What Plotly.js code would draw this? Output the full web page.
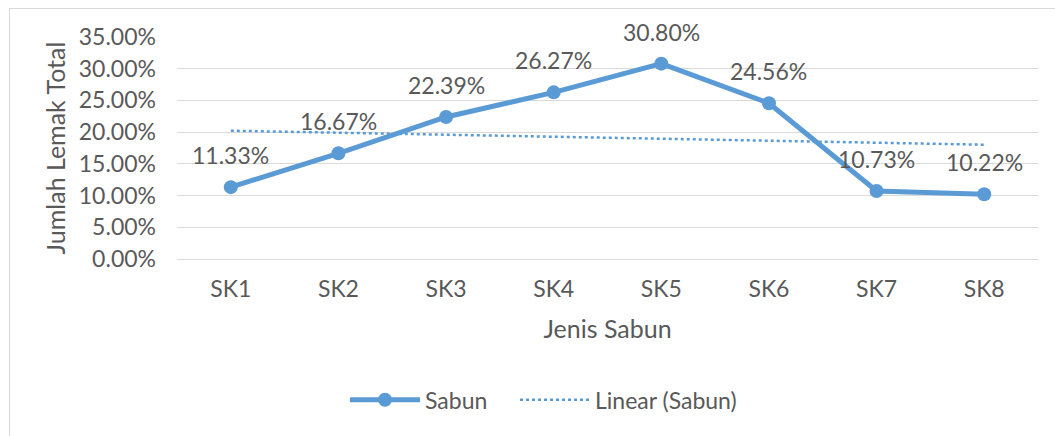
<!DOCTYPE html>
<html>
<head>
<meta charset="utf-8">
<script src="https://cdn.plot.ly/plotly-3.0.1.min.js"></script>
<style>
html,body{margin:0;padding:0;background:#fff;}
#wrap{position:absolute;left:0;top:0;width:1055px;height:436px;}
#frame{position:absolute;left:9px;top:8px;width:1046px;height:428px;border-left:1.5px solid #d9d9d9;border-top:1.5px solid #d9d9d9;pointer-events:none;}
#chart{position:absolute;left:0;top:0;width:1055px;height:436px;}
</style>
</head>
<body>
<div id="wrap"><div id="chart"></div><div id="frame"></div></div>
<script>
const categories = ["SK1","SK2","SK3","SK4","SK5","SK6","SK7","SK8"];
const sabun = [11.33, 16.67, 22.39, 26.27, 30.80, 24.56, 10.73, 10.22];
const yTickVals = [0,5,10,15,20,25,30,35];

// Linear trend (least squares) computed from the data, as Excel's "Linear (Sabun)"
const n = sabun.length;
const xs = sabun.map((_, i) => i + 1);
const mx = xs.reduce((a,b)=>a+b,0)/n;
const my = sabun.reduce((a,b)=>a+b,0)/n;
let sxy = 0, sxx = 0;
for (let i=0;i<n;i++){ sxy += (xs[i]-mx)*(sabun[i]-my); sxx += (xs[i]-mx)*(xs[i]-mx); }
const slope = sxy/sxx, intercept = my - slope*mx;
const trend = xs.map(x => intercept + slope*x);

const FONT = "Lato";
const TXT = "#595959";
const BLUE = "#5B9BD5";

const traces = [
  {
    x: categories, y: sabun, name: "Sabun", type: "scatter", mode: "lines+markers",
    line: {color: BLUE, width: 5},
    marker: {color: BLUE, size: 14},
    hoverinfo: "skip", legend: "legend"
  },
  {
    x: categories, y: trend, name: "Linear (Sabun)", type: "scatter", mode: "lines",
    line: {color: BLUE, width: 2.5, dash: "dot"},
    hoverinfo: "skip", legend: "legend2"
  }
];

const annotations = categories.map((c, i) => ({
  x: c, y: sabun[i], xref: "x", yref: "y",
  text: sabun[i].toFixed(2) + "%",
  showarrow: false, yshift: 32, yanchor: "middle",
  font: {family: FONT, size: 23, color: TXT}
}));

const legendBase = {
  orientation: "h", xref: "container", yref: "container",
  xanchor: "left", y: 0.083, yanchor: "middle",
  font: {family: FONT, size: 23, color: TXT},
  itemwidth: 70, bgcolor: "rgba(0,0,0,0)"
};

const layout = {
  width: 1055, height: 436,
  margin: {l: 177, r: 17, t: 37, b: 177},
  paper_bgcolor: "rgba(0,0,0,0)", plot_bgcolor: "rgba(0,0,0,0)",
  font: {family: FONT, color: TXT, size: 23},
  showlegend: true,
  legend: Object.assign({}, legendBase, {x: 345/1055}),
  legend2: Object.assign({}, legendBase, {x: 515/1055}),
  xaxis: {
    type: "category", range: [-0.5, 7.5],
    showgrid: false, zeroline: false, showline: false, ticks: "",
    tickfont: {family: FONT, size: 23, color: TXT},
    ticklabelstandoff: 14,
    title: {text: "Jenis Sabun", font: {family: FONT, size: 25, color: TXT}, standoff: 19}
  },
  yaxis: {
    range: [0, 35], tickvals: yTickVals,
    ticktext: yTickVals.map(v => v.toFixed(2) + "%"),
    showgrid: true, gridcolor: "#d9d9d9", gridwidth: 1,
    zeroline: true, zerolinecolor: "#d9d9d9", zerolinewidth: 1,
    showline: false, ticks: "",
    tickfont: {family: FONT, size: 23, color: TXT},
    ticklabelstandoff: 20,
    title: {text: "Jumlah Lemak Total", font: {family: FONT, size: 25, color: TXT}, standoff: 6}
  },
  annotations: annotations
};

Plotly.newPlot("chart", traces, layout, {displayModeBar: false, staticPlot: true});
</script>
</body>
</html>
